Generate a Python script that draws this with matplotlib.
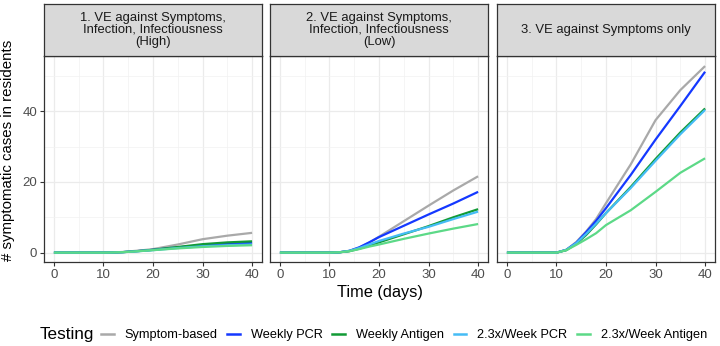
import matplotlib
matplotlib.use("Agg")
import matplotlib.pyplot as plt
from matplotlib.lines import Line2D

plt.rcParams['font.family'] = ['Liberation Sans', 'DejaVu Sans']

days = [0, 10, 12, 14, 16, 18, 20, 25, 30, 35, 40]

panel_titles = ["1. VE against Symptoms,\nInfection, Infectiousness\n(High)",
                "2. VE against Symptoms,\nInfection, Infectiousness\n(Low)",
                "3. VE against Symptoms only"]

series_names = ["Symptom-based", "Weekly PCR", "Weekly Antigen",
                "2.3x/Week PCR", "2.3x/Week Antigen"]
series_colors = ["#A9A9A9", "#1438FF", "#119A35", "#45BCF5", "#5CD987"]

# panel 1 (High)
high_symptom = [0, 0, 0.05, 0.2, 0.45, 0.7, 1.0, 2.3, 3.8, 4.8, 5.6]
high_weekly_pcr = [0, 0, 0.05, 0.15, 0.35, 0.55, 0.8, 1.5, 2.1, 2.5, 2.8]
high_weekly_ag = [0, 0, 0.05, 0.15, 0.35, 0.55, 0.8, 1.6, 2.4, 2.9, 3.2]
high_23_pcr = [0, 0, 0.05, 0.15, 0.3, 0.5, 0.7, 1.3, 1.8, 2.1, 2.3]
high_23_ag = [0, 0, 0.05, 0.15, 0.3, 0.5, 0.7, 1.2, 1.6, 1.9, 2.1]

# panel 2 (Low)
low_symptom = [0, 0, 0.1, 0.5, 1.4, 2.8, 4.5, 8.9, 13.3, 17.6, 21.6]
low_weekly_pcr = [0, 0, 0.1, 0.5, 1.5, 2.9, 4.4, 7.6, 10.8, 13.9, 17.2]
low_weekly_ag = [0, 0, 0.1, 0.4, 1.1, 2.0, 2.9, 5.2, 7.5, 10.0, 12.3]
low_23_pcr = [0, 0, 0.1, 0.5, 1.3, 2.3, 3.3, 5.4, 7.3, 9.5, 11.6]
low_23_ag = [0, 0, 0.1, 0.4, 1.0, 1.7, 2.3, 3.9, 5.4, 6.8, 8.1]

# panel 3 (Symptoms only)
sym_symptom = [0, 0, 0.8, 3.0, 6.0, 9.5, 14.0, 25.0, 37.5, 46.0, 52.8]
sym_weekly_pcr = [0, 0, 0.8, 2.8, 5.8, 9.0, 12.6, 22.0, 32.0, 41.5, 51.2]
sym_weekly_ag = [0, 0, 0.7, 2.5, 5.0, 8.0, 11.2, 18.6, 26.5, 34.0, 40.8]
sym_23_pcr = [0, 0, 0.8, 2.7, 5.3, 8.2, 11.2, 18.3, 26.0, 33.5, 40.4]
sym_23_ag = [0, 0, 0.7, 2.2, 3.8, 5.5, 7.8, 12.0, 17.2, 22.6, 26.7]

panel_data = [
    [high_symptom, high_weekly_pcr, high_weekly_ag, high_23_pcr, high_23_ag],
    [low_symptom, low_weekly_pcr, low_weekly_ag, low_23_pcr, low_23_ag],
    [sym_symptom, sym_weekly_pcr, sym_weekly_ag, sym_23_pcr, sym_23_ag],
]

W, H = 720, 346
fig = plt.figure(figsize=(W / 100, H / 100), dpi=100)

lefts = [44, 270, 497]
pw = 218
top, bottom, strip_top = 56, 262, 4

for i, (left, title, data) in enumerate(zip(lefts, panel_titles, panel_data)):
    ax = fig.add_axes([left / W, 1 - bottom / H, pw / W, (bottom - top) / H])
    for vals, color in zip(data, series_colors):
        ax.plot(days, vals, color=color, lw=1.6, solid_capstyle='butt')
    ax.set_xlim(-2, 42)
    ax.set_ylim(-2.65, 55.65)
    ax.set_xticks([0, 10, 20, 30, 40])
    ax.set_xticks([5, 15, 25, 35], minor=True)
    ax.set_yticks([0, 20, 40])
    ax.set_yticks([10, 30, 50], minor=True)
    ax.grid(which='major', color='#EBEBEB', lw=0.9)
    ax.grid(which='minor', color='#F2F2F2', lw=0.5)
    ax.set_axisbelow(True)
    ax.tick_params(which='minor', length=0)
    ax.tick_params(which='major', length=3, width=0.8, color='#333333',
                   labelcolor='#4D4D4D', labelsize=9.5, pad=2)
    if i > 0:
        ax.tick_params(axis='y', labelleft=False, length=0)
    for sp in ax.spines.values():
        sp.set_color('#333333')
        sp.set_linewidth(0.9)

    sax = fig.add_axes([left / W, 1 - top / H, pw / W, (top - strip_top) / H])
    sax.set_facecolor('#D9D9D9')
    sax.set_xticks([])
    sax.set_yticks([])
    for sp in sax.spines.values():
        sp.set_color('#333333')
        sp.set_linewidth(0.9)
    sax.text(0.5, 0.5, title, ha='center', va='center', fontsize=9.4,
             color='#1A1A1A', linespacing=1.0, transform=sax.transAxes)

fig.text(380 / W, 1 - 292 / H, "Time (days)", ha='center', va='center', fontsize=11.8)
fig.text(8 / W, 1 - 150 / H, "# symptomatic cases in residents", ha='center',
         va='center', rotation=90, fontsize=10.8)

fig.text(40 / W, 1 - 335 / H, "Testing", ha='left', va='center', fontsize=12.3)
handles = [Line2D([], [], color=c, lw=1.8) for c in series_colors]
fig.legend(handles, series_names, loc='center left', bbox_to_anchor=(101 / W, 1 - 335 / H),
           ncol=5, frameon=False, fontsize=9.2, handlelength=1.0, handletextpad=0.85,
           columnspacing=0.75, borderaxespad=0, borderpad=0)

fig.savefig("out.png", dpi=100)
